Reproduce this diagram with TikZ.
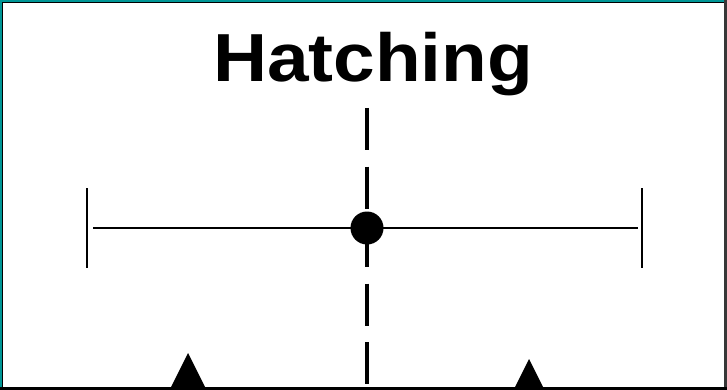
\documentclass[tikz,border=0pt]{standalone}
\usepackage{fontspec}
\setmainfont{Liberation Sans}
\definecolor{frameteal}{RGB}{0, 150, 150}
\definecolor{framedark}{RGB}{55, 55, 55}
\usetikzlibrary{positioning}

\begin{document}
\begin{tikzpicture}[x=1pt, y=-1pt,
  heading/.style={font=\fontsize{68}{68}\selectfont\bfseries, inner sep=0pt, anchor=base, xscale=1.1},
  pivot/.style={circle, fill=black, inner sep=0pt, minimum size=33pt},
  axisline/.style={line width=2.5pt},
  endtick/.style={line width=2pt},
  midline/.style={line width=4pt, dash pattern=on 42pt off 16.5pt},
  marker/.style={fill=black}
]
  \useasboundingbox (0,0) rectangle (727,390);
  \fill[white] (0,0) rectangle (727,390);

  \node[heading] (title) at (373,82) {Hatching};

  \coordinate (ltop) at (87,188);
  \coordinate (lbot) at (87,268);
  \coordinate (rtop) at (642,188);
  \coordinate (rbot) at (642,268);
  \coordinate (lend) at (93,228);
  \coordinate (rend) at (638,228);
  \coordinate (dtop) at (367,108);
  \coordinate (dbot) at (367,392);

  \draw[endtick] (ltop) -- (lbot);
  \draw[endtick] (rtop) -- (rbot);
  \draw[axisline] (lend) -- (rend);
  \draw[midline] (dtop) -- (dbot);
  \node[pivot] (centre) at (367,228) {};

  \coordinate (lmark) at (188,353);
  \coordinate (rmark) at (529,359);
  \fill[marker] (lmark) -- ++(-22,44) -- ++(44,0) -- cycle;
  \fill[marker] (rmark) -- ++(-19,38) -- ++(38,0) -- cycle;

  \draw[frameteal, line width=2pt] (1,1) rectangle (726,389);
  \draw[black, line width=1pt] (2.5,2.5) rectangle (724.5,387.5);
  \draw[framedark, line width=3pt] (725.5,0) -- (725.5,390);
  \draw[black, line width=3.5pt] (0,388.25) -- (727,388.25);
\end{tikzpicture}
\end{document}
